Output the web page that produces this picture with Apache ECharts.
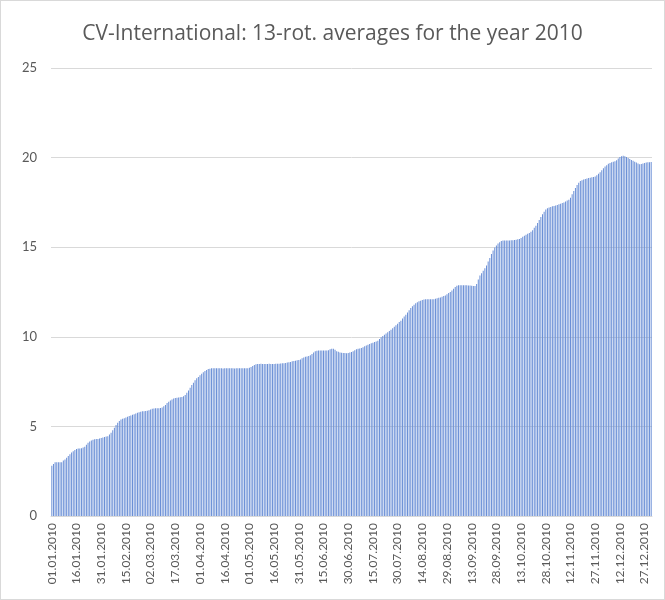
<!DOCTYPE html>
<html>
<head>
<meta charset="utf-8">
<script src="https://cdn.jsdelivr.net/npm/echarts@6/dist/echarts.min.js"></script>
<style>
html,body{margin:0;padding:0;background:#fff;}
#frame{position:absolute;left:0;top:0;width:663px;height:598px;border:1px solid #d9d9d9;}
#chart{position:absolute;left:0;top:0;width:665px;height:600px;}
</style>
</head>
<body>
<div id="frame"></div>
<div id="chart"></div>
<script>
const titleText = "CV-International: 13-rot. averages for the year 2010";
const startYear = 2010;
const yTicks = [0, 5, 10, 15, 20, 25];
const values = [
2.8, 2.9, 3.0, 3.0, 3.0, 3.0, 3.0, 3.1, 3.15, 3.25,
3.35, 3.45, 3.55, 3.62, 3.68, 3.74, 3.76, 3.77, 3.78, 3.82,
3.87, 3.98, 4.09, 4.16, 4.22, 4.26, 4.28, 4.29, 4.3, 4.32,
4.35, 4.38, 4.41, 4.43, 4.45, 4.55, 4.65, 4.78, 4.92, 5.08,
5.2, 5.3, 5.38, 5.43, 5.46, 5.5, 5.54, 5.58, 5.61, 5.65,
5.68, 5.72, 5.76, 5.79, 5.82, 5.84, 5.85, 5.86, 5.87, 5.9,
5.95, 5.98, 6.0, 6.01, 6.01, 6.01, 6.02, 6.05, 6.12, 6.2,
6.3, 6.38, 6.44, 6.5, 6.55, 6.58, 6.6, 6.61, 6.62, 6.64,
6.68, 6.75, 6.88, 7.01, 7.16, 7.31, 7.44, 7.57, 7.68, 7.76,
7.85, 7.94, 8.02, 8.09, 8.15, 8.2, 8.22, 8.24, 8.24, 8.24,
8.24, 8.25, 8.24, 8.24, 8.23, 8.24, 8.24, 8.25, 8.24, 8.24,
8.24, 8.23, 8.24, 8.24, 8.24, 8.25, 8.24, 8.24, 8.24, 8.25,
8.27, 8.31, 8.37, 8.43, 8.47, 8.48, 8.48, 8.49, 8.48, 8.48,
8.48, 8.48, 8.49, 8.48, 8.48, 8.48, 8.49, 8.5, 8.5, 8.51,
8.52, 8.53, 8.54, 8.56, 8.58, 8.6, 8.63, 8.65, 8.67, 8.69,
8.7, 8.74, 8.8, 8.85, 8.88, 8.9, 8.93, 8.97, 9.04, 9.12,
9.19, 9.22, 9.23, 9.23, 9.23, 9.23, 9.24, 9.23, 9.25, 9.3,
9.34, 9.34, 9.28, 9.2, 9.16, 9.13, 9.11, 9.1, 9.09, 9.08,
9.1, 9.12, 9.15, 9.2, 9.25, 9.3, 9.33, 9.35, 9.38, 9.42,
9.47, 9.52, 9.56, 9.6, 9.64, 9.67, 9.71, 9.74, 9.78, 9.88,
9.98, 10.05, 10.12, 10.19, 10.26, 10.33, 10.4, 10.48, 10.56, 10.64,
10.73, 10.82, 10.9, 11.02, 11.13, 11.23, 11.36, 11.48, 11.61, 11.7,
11.79, 11.87, 11.93, 11.98, 12.01, 12.05, 12.08, 12.09, 12.09, 12.09,
12.09, 12.09, 12.1, 12.12, 12.15, 12.18, 12.2, 12.24, 12.27, 12.31,
12.38, 12.44, 12.5, 12.59, 12.68, 12.78, 12.85, 12.87, 12.87, 12.88,
12.88, 12.87, 12.87, 12.86, 12.86, 12.85, 12.84, 12.83, 12.95, 13.2,
13.42, 13.55, 13.68, 13.82, 13.98, 14.2, 14.4, 14.62, 14.82, 14.98,
15.1, 15.2, 15.28, 15.35, 15.38, 15.38, 15.38, 15.38, 15.38, 15.39,
15.39, 15.4, 15.42, 15.44, 15.46, 15.52, 15.58, 15.64, 15.7, 15.75,
15.79, 15.86, 15.95, 16.08, 16.2, 16.35, 16.52, 16.68, 16.84, 16.98,
17.1, 17.18, 17.22, 17.25, 17.28, 17.3, 17.33, 17.36, 17.39, 17.42,
17.46, 17.5, 17.55, 17.6, 17.65, 17.76, 17.95, 18.14, 18.3, 18.47,
18.6, 18.69, 18.74, 18.78, 18.81, 18.84, 18.86, 18.88, 18.9, 18.92,
18.95, 19.02, 19.1, 19.18, 19.3, 19.4, 19.5, 19.58, 19.66, 19.7,
19.74, 19.77, 19.8, 19.85, 19.95, 20.03, 20.08, 20.1, 20.08, 20.03,
19.98, 19.92, 19.87, 19.82, 19.77, 19.72, 19.67, 19.63, 19.64, 19.67,
19.7, 19.72, 19.74, 19.74, 19.75
];

// one category per day of the year
const categories = [];
for (let i = 0; i < values.length; i++) {
  const d = new Date(Date.UTC(startYear, 0, 1 + i));
  const dd = String(d.getUTCDate()).padStart(2, '0');
  const mm = String(d.getUTCMonth() + 1).padStart(2, '0');
  categories.push(dd + '.' + mm + '.' + d.getUTCFullYear());
}

const chart = echarts.init(document.getElementById('chart'), null, {renderer: 'canvas'});
chart.setOption({
  animation: false,
  backgroundColor: 'transparent',
  title: {
    text: titleText,
    left: 'center',
    top: 19,
    textStyle: {fontFamily: 'Open Sans', fontSize: 21, fontWeight: 'normal', color: '#595959'}
  },
  grid: {left: 51, right: 13, top: 68, bottom: 84, containLabel: false},
  xAxis: {
    type: 'category',
    data: categories,
    axisLine: {lineStyle: {color: '#d9d9d9'}},
    axisTick: {show: false},
    axisLabel: {
      interval: 14,
      rotate: 90,
      color: '#595959',
      fontFamily: 'Lato',
      fontSize: 12,
      margin: 7
    }
  },
  yAxis: {
    type: 'value',
    min: yTicks[0],
    max: yTicks[yTicks.length - 1],
    interval: 5,
    axisLine: {show: false},
    axisTick: {show: false},
    splitLine: {lineStyle: {color: '#d9d9d9'}},
    axisLabel: {color: '#595959', fontFamily: 'Lato', fontSize: 13, margin: 14}
  },
  series: [{
    type: 'bar',
    data: values,
    barCategoryGap: '60%',
    itemStyle: {color: '#6a8fd6'}
  }]
});
</script>
</body>
</html>
